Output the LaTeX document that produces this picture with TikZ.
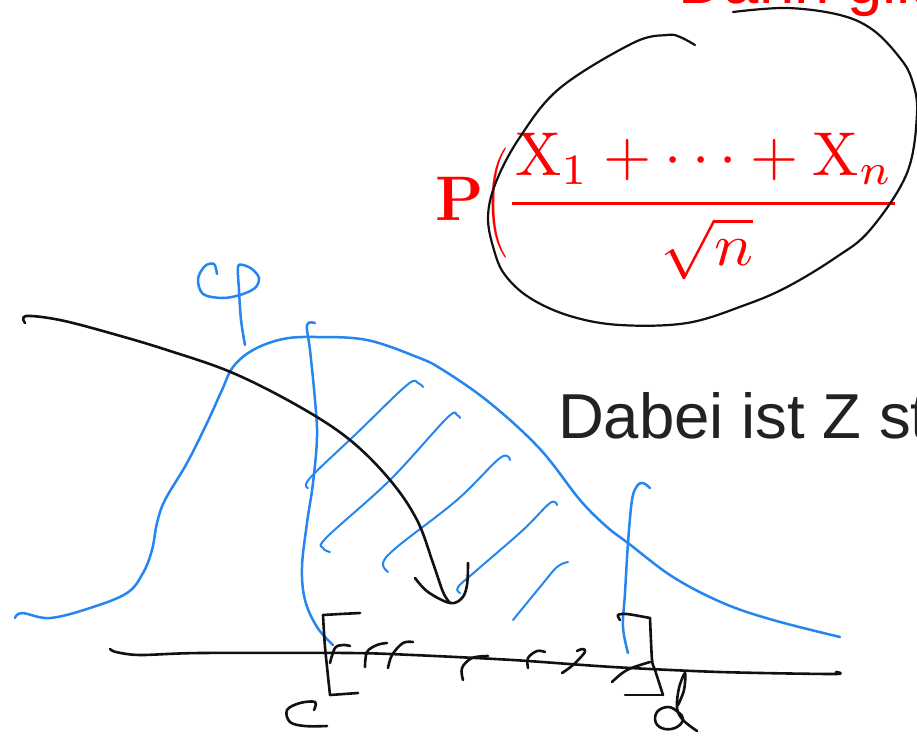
\documentclass[tikz,border=0pt]{standalone}
\usepackage{fontspec}
\usepackage{graphicx}
\newfontfamily\slidesans{Liberation Sans}
\definecolor{penblue}{RGB}{38,134,240}
\definecolor{penblack}{RGB}{17,17,17}
\definecolor{slidered}{RGB}{255,0,0}
\definecolor{slidetext}{RGB}{34,34,34}
\tikzset{
  ink/.style={penblack, line width=2.6pt, line cap=round, line join=round},
  blueink/.style={penblue, line width=2.5pt, line cap=round, line join=round},
  hatchline/.style={penblue, line width=2pt, line cap=round, line join=round},
  txt/.style={inner sep=0pt, outer sep=0pt},
}
\begin{document}
\begin{tikzpicture}[x=1pt,y=-1pt]
\useasboundingbox (0,0) rectangle (917,740);
\fill[white] (0,0) rectangle (917,740);
\begin{scope}
\clip (0,0) rectangle (917,740);
% slide text
\node[txt, anchor=base west, text=slidered] (dann) at (678,3) {\slidesans\fontsize{63.5}{63.5}\selectfont Dann gilt};
\node[txt, anchor=base west, text=slidetext] (dabei) at (558,438) {\slidesans\fontsize{63.5}{63.5}\selectfont Dabei ist Z st};
% formula
\node[txt, anchor=base west, text=slidered] (P) at (435,220) {\fontsize{63}{63}\selectfont\bfseries P};
\node[txt, anchor=north west, text=slidered] (paren) at (485,148) {\resizebox*{22pt}{110pt}{$\Bigg($}};
\node[txt, anchor=base west, text=slidered] (num) at (515,175) {\resizebox{378pt}{!}{$\mathrm{X}_1+\cdots+\mathrm{X}_n$}};
\coordinate (barL) at (512,203);
\coordinate (barR) at (895,203);
\draw[slidered, line width=3pt] (barL) -- (barR);
\node[txt, anchor=north west, text=slidered] (den) at (660,218) {\resizebox*{93pt}{62pt}{$\sqrt{n}$}};
% black loop around the fraction
\draw[ink, line width=2.2pt] plot[smooth, tension=0.6] coordinates {(695,45) (680,37) (667,35) (633,43) (560,88) (520,137) (496,182) (488,217) (494,250) (505,275) (530,298) (570,316) (620,325) (687,323) (745,305) (787,287) (835,258) (870,230) (907,173) (917,113) (912,80) (900,58) (873,30) (840,15) (787,8) (733,12)};
% bell curve phi
\draw[blueink] plot[smooth, tension=0.6] coordinates {(15,618) (22,613) (50,618) (90,608) (127,593) (143,573) (152,550) (157,523) (165,500) (187,463) (207,423) (222,390) (233,367) (253,350) (283,339) (317,337) (367,340) (417,357) (443,370) (490,403) (540,449) (580,500) (607,527) (628,543) (673,577) (723,603) (773,620) (840,637)};
% phi label
\draw[blueink] plot[smooth, tension=0.55] coordinates {(217,274) (214,264) (205,266) (198,279) (203,294) (222,298) (240,295) (255,288) (259,278) (252,269) (243,265) (238,267) (239,290) (241,320) (245,345)};
% boundary c
\draw[blueink] plot[smooth, tension=0.6] coordinates {(315,323) (307,325) (310,350) (315,400) (317,437) (313,483) (307,523) (302,567) (305,600) (317,627) (333,645)};
% boundary d
\draw[blueink] plot[smooth, tension=0.6] coordinates {(650,488) (643,483) (637,486) (632,500) (628,543) (625,593) (623,627) (628,653)};
% hatching
\draw[hatchline] plot[smooth, tension=0.6] coordinates {(308,488) (310,478) (357,433) (407,385) (418,383) (423,387)};
\draw[hatchline] plot[smooth, tension=0.6] coordinates {(330,552) (323,548) (327,537) (390,480) (447,418) (457,415) (460,418)};
\draw[hatchline] plot[smooth, tension=0.6] coordinates {(388,572) (383,563) (397,547) (457,500) (500,458) (510,460)};
\draw[hatchline] plot[smooth, tension=0.6] coordinates {(460,593) (458,587) (477,570) (523,530) (550,503) (557,505)};
\draw[hatchline] plot[smooth, tension=0.6] coordinates {(513,620) (540,587) (557,567) (568,562)};
% black arrow
\draw[ink] plot[smooth, tension=0.6] coordinates {(25,323) (26,316) (60,320) (110,333) (167,350) (233,373) (300,407) (350,440) (390,480) (417,520) (433,563) (443,592) (450,603)};
\draw[ink] plot[smooth, tension=0.6] coordinates {(415,578) (428,592) (450,603) (462,598) (467,585) (468,563)};
% axis
\draw[ink] plot[smooth, tension=0.5] coordinates {(110,649) (116,652) (140,655) (200,653) (350,653) (413,655) (513,660) (613,667) (720,672) (833,674) (836,672)};
% left bracket and c
\draw[ink] plot[smooth, tension=0.3] coordinates {(360,613) (340,614) (323,615)};
\draw[ink] plot[smooth, tension=0.4] coordinates {(323,615) (325,647) (330,695)};
\draw[ink] (330,695) -- (358,693);
\draw[ink] plot[smooth, tension=0.6] coordinates {(314,710) (315,702) (300,703) (287,710) (290,722) (305,726) (327,726)};
% ticks on axis
\draw[ink] plot[smooth, tension=0.6] coordinates {(330,663) (335,648) (343,645) (350,646)};
\draw[ink] plot[smooth, tension=0.6] coordinates {(365,667) (367,652) (377,645) (387,643)};
\draw[ink] plot[smooth, tension=0.6] coordinates {(388,668) (392,655) (403,643) (413,642)};
\draw[ink] plot[smooth, tension=0.6] coordinates {(463,680) (462,668) (472,658) (488,656)};
\draw[ink] plot[smooth, tension=0.6] coordinates {(528,668) (528,658) (537,651) (545,652)};
\draw[ink] plot[smooth, tension=0.6] coordinates {(562,673) (573,665) (585,652) (582,649) (577,651)};
\draw[ink] plot[smooth, tension=0.6] coordinates {(612,682) (627,670) (650,662)};
% right bracket and d
\draw[ink] plot[smooth, tension=0.5] coordinates {(620,620) (618,615) (627,614) (650,618)};
\draw[ink] plot[smooth, tension=0.4] coordinates {(650,618) (652,660) (655,670) (663,695)};
\draw[ink] (663,695) -- (625,695);
\draw[ink] plot[smooth, tension=0.6] coordinates {(697,731) (683,720) (677,708) (679,688) (685,673) (684,690) (678,705)};
\draw[ink] plot[smooth cycle, tension=0.7] coordinates {(678,712) (668,707) (657,712) (656,723) (665,729) (677,727) (683,719)};
\end{scope}
\end{tikzpicture}
\end{document}
